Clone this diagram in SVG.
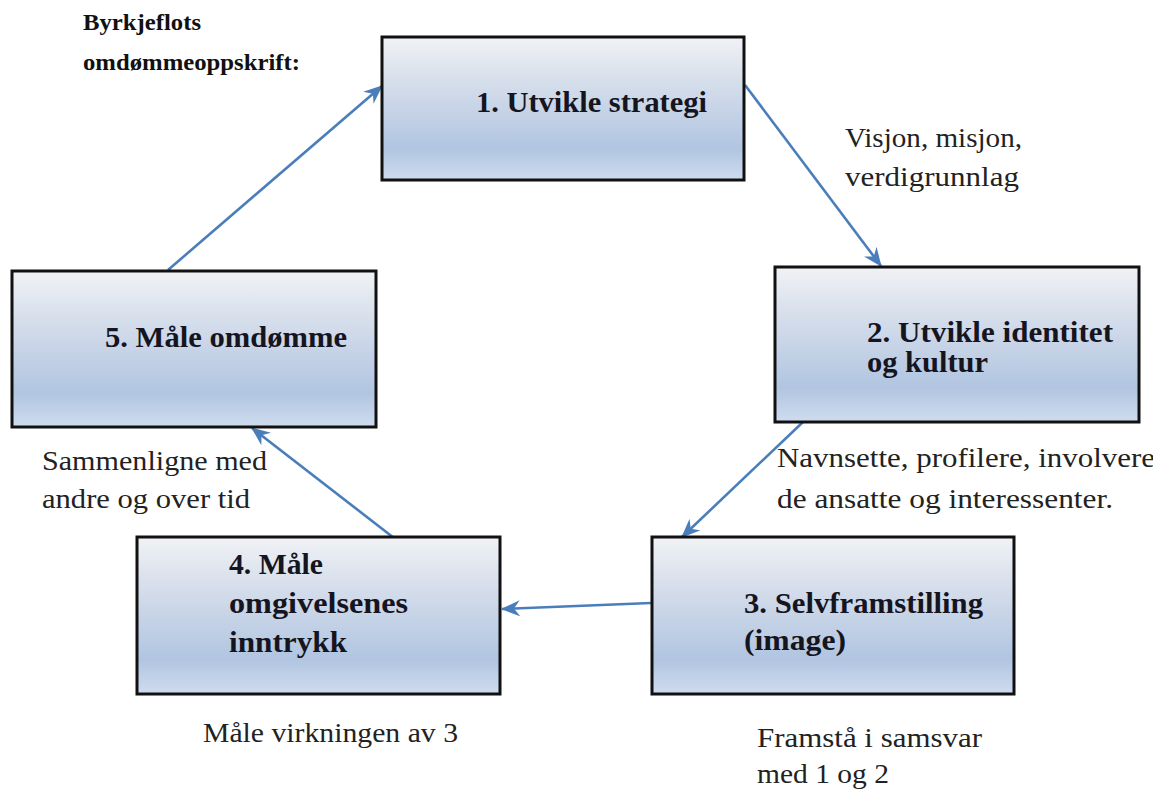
<svg xmlns="http://www.w3.org/2000/svg" width="1153" height="792" viewBox="0 0 1153 792">
<defs>
<linearGradient id="boxfill" x1="0" y1="0" x2="0" y2="1">
<stop offset="0" stop-color="#f1f2f5"/>
<stop offset="0.35" stop-color="#d3dcea"/>
<stop offset="0.78" stop-color="#b1c5e1"/>
<stop offset="1" stop-color="#cfdcee"/>
</linearGradient>
<marker id="arr" markerUnits="userSpaceOnUse" markerWidth="19" markerHeight="16" viewBox="0 0 19 16" refX="18" refY="8" orient="auto">
<path d="M0,0 L19,8 L0,16 L6,8 z" fill="#4a7ebb"/>
</marker>
<style>
.box{fill:url(#boxfill);stroke:#111;stroke-width:3}
.bold{font-family:"Liberation Serif","Times New Roman",serif;font-weight:bold;font-size:29px;fill:#15151f}
.reg{font-family:"Liberation Serif","Times New Roman",serif;font-size:27px;fill:#222}
.title{font-family:"Liberation Serif","Times New Roman",serif;font-weight:bold;font-size:23px;fill:#111}
.conn{stroke:#4a7ebb;stroke-width:2.6;fill:none;marker-end:url(#arr)}
</style>
</defs>
<rect width="1153" height="792" fill="#fff"/>
<g id="title">
<text class="title" x="83" y="30" textLength="118" lengthAdjust="spacingAndGlyphs">Byrkjeflots</text>
<text class="title" x="83" y="70" textLength="217" lengthAdjust="spacingAndGlyphs">omdømmeoppskrift:</text>
</g>
<g id="connectors">
<line class="conn" x1="168" y1="270" x2="382" y2="86"/>
<line class="conn" x1="745" y1="85" x2="881" y2="266"/>
<line class="conn" x1="803" y1="422" x2="682" y2="537"/>
<line class="conn" x1="651" y1="603" x2="502" y2="609"/>
<line class="conn" x1="394" y1="538" x2="252" y2="428"/>
</g>
<g id="node1">
<rect class="box" x="382" y="37" width="362" height="143"/>
<text class="bold" x="476" y="112" textLength="231" lengthAdjust="spacingAndGlyphs">1. Utvikle strategi</text>
</g>
<g id="node2">
<rect class="box" x="775" y="267" width="364" height="155"/>
<text class="bold" x="867" y="342" textLength="246" lengthAdjust="spacingAndGlyphs">2. Utvikle identitet</text>
<text class="bold" x="867" y="372" textLength="121" lengthAdjust="spacingAndGlyphs">og kultur</text>
</g>
<g id="node3">
<rect class="box" x="652" y="537" width="362" height="157"/>
<text class="bold" x="744" y="613" textLength="239" lengthAdjust="spacingAndGlyphs">3. Selvframstilling</text>
<text class="bold" x="744" y="650" textLength="102" lengthAdjust="spacingAndGlyphs">(image)</text>
</g>
<g id="node4">
<rect class="box" x="137" y="537" width="363" height="157"/>
<text class="bold" x="229" y="574" textLength="94" lengthAdjust="spacingAndGlyphs">4. Måle</text>
<text class="bold" x="229" y="613" textLength="179" lengthAdjust="spacingAndGlyphs">omgivelsenes</text>
<text class="bold" x="229" y="652" textLength="118" lengthAdjust="spacingAndGlyphs">inntrykk</text>
</g>
<g id="node5">
<rect class="box" x="12" y="271" width="364" height="156"/>
<text class="bold" x="105" y="347" textLength="242" lengthAdjust="spacingAndGlyphs">5. Måle omdømme</text>
</g>
<g id="labels">
<text class="reg" x="845" y="147" textLength="177" lengthAdjust="spacingAndGlyphs">Visjon, misjon,</text>
<text class="reg" x="845" y="186" textLength="174" lengthAdjust="spacingAndGlyphs">verdigrunnlag</text>
<text class="reg" x="777" y="467" textLength="378" lengthAdjust="spacingAndGlyphs">Navnsette, profilere, involvere</text>
<text class="reg" x="777" y="508" textLength="336" lengthAdjust="spacingAndGlyphs">de ansatte og interessenter.</text>
<text class="reg" x="42" y="470" textLength="225" lengthAdjust="spacingAndGlyphs">Sammenligne med</text>
<text class="reg" x="42" y="508" textLength="208" lengthAdjust="spacingAndGlyphs">andre og over tid</text>
<text class="reg" x="203" y="742" textLength="255" lengthAdjust="spacingAndGlyphs">Måle virkningen av 3</text>
<text class="reg" x="757" y="747" textLength="225" lengthAdjust="spacingAndGlyphs">Framstå i samsvar</text>
<text class="reg" x="757" y="783" textLength="132" lengthAdjust="spacingAndGlyphs">med 1 og 2</text>
</g>
</svg>
